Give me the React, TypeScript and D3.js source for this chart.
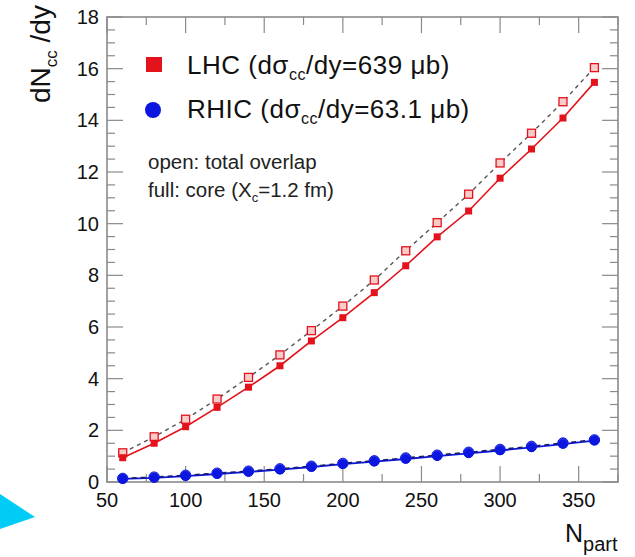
import React from "react";
import * as d3 from "d3";

const npart = [60, 80, 100, 120, 140, 160, 180, 200, 220, 240, 260, 280, 300, 320, 340, 360];
const lhcTotal = [1.13, 1.75, 2.43, 3.21, 4.05, 4.92, 5.86, 6.81, 7.82, 8.95, 10.04, 11.14, 12.35, 13.5, 14.72, 16.04];
const lhcCore = [0.94, 1.5, 2.14, 2.89, 3.67, 4.5, 5.46, 6.36, 7.33, 8.37, 9.49, 10.49, 11.76, 12.89, 14.09, 15.47];
const rhicTotal = [0.14, 0.19, 0.26, 0.34, 0.42, 0.51, 0.61, 0.72, 0.82, 0.93, 1.04, 1.15, 1.26, 1.38, 1.51, 1.63];
const rhicCore = [0.12, 0.16, 0.23, 0.31, 0.39, 0.48, 0.58, 0.69, 0.79, 0.89, 1.0, 1.11, 1.22, 1.34, 1.47, 1.6];
const xTicks = [50, 100, 150, 200, 250, 300, 350];
const yTicks = [0, 2, 4, 6, 8, 10, 12, 14, 16, 18];

const W = 635, H = 557;
const L = 107, R = 618, T = 17, B = 482;
const FONT = "'Liberation Sans', Arial, Helvetica, sans-serif";
const RED = "#e3121b";
const BLUE = "#0b17e0";
const AXIS = "#8a8a8a";

export default function App() {
  const x = d3.scaleLinear().domain([50, 375]).range([L, R]);
  const y = d3.scaleLinear().domain([0, 18]).range([B, T]);
  const line = (ys: number[]) =>
    d3.line<number>().x((_, i) => x(npart[i])).y((v) => y(v))(ys) || "";

  const xMinor = d3.range(50, 376, 25);
  const yMinor = d3.range(0, 18.01, 0.5);

  return (
    <svg width={W} height={H} style={{ position: "absolute", left: 0, top: 0, background: "#fff" }}>
      <rect width={W} height={H} fill="#fff" />
      {/* ticks */}
      <g stroke={AXIS} strokeWidth={1.2}>
        {xMinor.map((t) => {
          const major = t % 50 === 0;
          const len = major ? 16 : 8;
          return (
            <g key={"x" + t}>
              <line x1={x(t)} x2={x(t)} y1={B} y2={B - len} />
              <line x1={x(t)} x2={x(t)} y1={T} y2={T + len} />
            </g>
          );
        })}
        {yMinor.map((t) => {
          const major = Math.abs(t % 2) < 1e-6;
          const len = major ? 16 : 8;
          return (
            <g key={"y" + t}>
              <line x1={L} x2={L + len} y1={y(t)} y2={y(t)} />
              <line x1={R} x2={R - len} y1={y(t)} y2={y(t)} />
            </g>
          );
        })}
      </g>
      <rect x={L} y={T} width={R - L} height={B - T} fill="none" stroke={AXIS} strokeWidth={1.6} />

      {/* tick labels */}
      <g fontFamily={FONT} fontSize={20} fill="#111">
        {xTicks.map((t) => (
          <text key={t} x={x(t)} y={507} textAnchor="middle">{t}</text>
        ))}
        {yTicks.map((t) => (
          <text key={t} x={99} y={y(t) + 7} textAnchor="end">{t}</text>
        ))}
      </g>

      {/* lines */}
      <path d={line(lhcCore)} fill="none" stroke={RED} strokeWidth={1.6} />
      <path d={line(lhcTotal)} fill="none" stroke="#555" strokeWidth={1.4} strokeDasharray="4,4" />
      <path d={line(rhicCore)} fill="none" stroke={BLUE} strokeWidth={1.8} />
      <path d={line(rhicTotal)} fill="none" stroke="#1a1a60" strokeWidth={1.6} strokeDasharray="5,4" />

      {/* markers */}
      {lhcTotal.map((v, i) => (
        <rect key={"lt" + i} x={x(npart[i]) - 4} y={y(v) - 4} width={8} height={8}
          fill="#f9cccc" stroke={RED} strokeWidth={1.3} />
      ))}
      {lhcCore.map((v, i) => (
        <rect key={"lc" + i} x={x(npart[i]) - 3.5} y={y(v) - 3.5} width={7} height={7} fill={RED} />
      ))}
      {rhicTotal.map((v, i) => (
        <circle key={"rt" + i} cx={x(npart[i])} cy={y(v)} r={5.2} fill="#3440e8" stroke={BLUE} strokeWidth={1} />
      ))}
      {rhicCore.map((v, i) => (
        <circle key={"rc" + i} cx={x(npart[i])} cy={y(v)} r={4.8} fill={BLUE} />
      ))}

      {/* legend */}
      <rect x={146} y={57} width={16} height={15} fill={RED} />
      <circle cx={153} cy={110} r={8} fill={BLUE} />
      <g fontFamily={FONT} fontSize={26} fill="#111" letterSpacing={0.5}>
        <text x={187} y={74}>
          LHC (dσ<tspan fontSize={16} dy={6}>cc</tspan><tspan dy={-6}>/dy=639 μb)</tspan>
        </text>
        <text x={187} y={118}>
          RHIC (dσ<tspan fontSize={16} dy={6}>cc</tspan><tspan dy={-6}>/dy=63.1 μb)</tspan>
        </text>
      </g>
      <g fontFamily={FONT} fontSize={20.5} fill="#222">
        <text x={148} y={169}>open: total overlap</text>
        <text x={148} y={197}>
          full: core (X<tspan fontSize={13} dy={5}>c</tspan><tspan dy={-5}>=1.2 fm)</tspan>
        </text>
      </g>

      {/* axis titles */}
      <g fontFamily={FONT} fill="#111">
        <text transform="translate(50,103) rotate(-90)" fontSize={28}>
          dN<tspan fontSize={17} dy={7}>cc</tspan><tspan dy={-7}> /dy</tspan>
        </text>
        <text x={565} y={542} fontSize={25}>
          N<tspan fontSize={20} dy={9}>part</tspan>
        </text>
      </g>

      {/* cyan triangle */}
      <polygon points="0,494 35,517 0,529" fill="#00ccf5" />
    </svg>
  );
}
